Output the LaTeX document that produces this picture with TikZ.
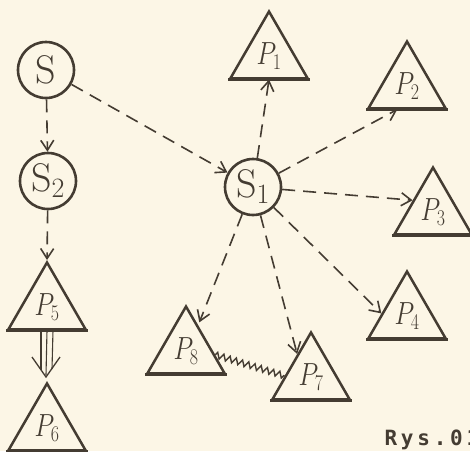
\documentclass[tikz,border=0pt]{standalone}
\usepackage{fix-cm}
\usepackage{fontspec}
\newfontfamily\rysfont[LetterSpace=18]{DejaVu Sans Mono}
\usetikzlibrary{shapes.geometric,arrows.meta,decorations.pathmorphing,calc}
\definecolor{paper}{RGB}{252,246,230}
\definecolor{ink}{RGB}{68,60,50}
\tikzset{
  circ/.style={circle, draw=ink, line width=2.6pt, minimum size=56pt, inner sep=0pt,
    text=ink, font=\fontsize{40}{42}\selectfont},
  tri/.style={regular polygon, regular polygon sides=3, draw=ink, line width=2.5pt,
    minimum size=89pt, inner sep=0pt, text=ink, font=\fontsize{32}{34}\selectfont},
  darr/.style={draw=ink, line width=1.6pt, dash pattern=on 13pt off 8pt,
    -{Straight Barb[length=10pt,width=13pt]}},
  triline/.style={draw=ink, line width=1.1pt},
  zz/.style={draw=ink, line width=1.4pt, decorate,
    decoration={zigzag, amplitude=3pt, segment length=6.5pt}},
  basel/.style={draw=ink, line width=3.6pt},
}
\newcommand{\plab}[1]{\scalebox{0.8}[1]{$P_{#1}$}}
\begin{document}
\begin{tikzpicture}[x=1pt,y=-1pt]
\fill[paper] (0,0) rectangle (470,451);
\useasboundingbox (0,0) rectangle (470,451);

\node[circ] (S)  at (46,70)  {S};
\node[circ] (S2) at (48,181) {S$_2$};
\node[circ] (S1) at (253,187) {S$_1$};

\node[tri] (P1) at (269,56)  {\plab{1}};
\node[tri] (P2) at (407,86)  {\plab{2}};
\node[tri] (P3) at (433,212) {\plab{3}};
\node[tri] (P4) at (407,316) {\plab{4}};
\node[tri] (P5) at (47,307)  {\plab{5}};
\node[tri] (P6) at (47,428)  {\plab{6}};
\node[tri] (P7) at (311,377) {\plab{7}};
\node[tri] (P8) at (186,351) {\plab{8}};

\foreach \n in {P1,P2,P3,P4,P5,P6,P7,P8}
  \draw[basel] (\n.corner 2) -- (\n.corner 3);

% dashed arrows
\draw[darr] (S) -- (S2);
\draw[darr] (S2) -- (P5.corner 1);
\draw[darr] (S) -- (S1);
\draw[darr] (S1) -- (P1.side 2);
\draw[darr] (S1) -- ($(P2.corner 2)!0.38!(P2.corner 3)$);
\draw[darr] (S1) -- (P3.side 1);
\draw[darr] (S1) -- ($(P4.corner 1)!0.63!(P4.corner 2)$);
\draw[darr] (S1) -- ($(P7.corner 1)!0.34!(P7.corner 2)$);
\draw[darr, shorten >=3pt] (S1) -- ($(P8.corner 1)!0.3!(P8.corner 3)$);

% zigzag P8 -- P7
\draw[zz] ($(P8.corner 1)!0.72!(P8.corner 3)$) -- ($(P7.corner 1)!0.65!(P7.corner 2)$);

% triple arrow P5 => P6
\coordinate (ta) at (P5.side 2);
\coordinate (tb) at ($(P6.corner 1)+(-1,-4)$);
\draw[triline] ($(ta)+(-6,0)$) -- ($(tb)+(-5,-7)$);
\draw[triline] ($(ta)+(0,0)$) -- ($(tb)+(0,-2)$);
\draw[triline] ($(ta)+(6,0)$) -- ($(tb)+(6,-8)$);
\draw[draw=ink, line width=1.3pt] ($(tb)+(-14,-20)$) -- (tb) -- ($(tb)+(14,-20)$);

\node[anchor=base west, text=ink, font=\rysfont\bfseries\fontsize{21}{23}\selectfont] (rys) at (381,445) {Rys.01};
\end{tikzpicture}
\end{document}
